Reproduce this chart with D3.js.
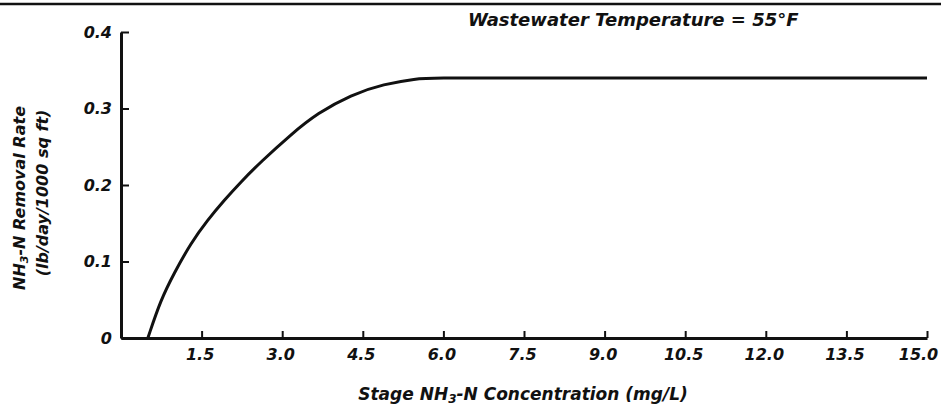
<!DOCTYPE html>
<html lang="en">
<head>
  <meta charset="UTF-8">
  <title>NH3-N Removal Rate</title>
  <script src="https://d3js.org/d3.v7.min.js"></script>
  <style>
    body {
      margin: 0;
      background: #ffffff;
    }
    svg text {
      font-family: "DejaVu Sans", "Liberation Sans", Arial, sans-serif;
      font-style: italic;
      font-weight: bold;
      fill: #111;
    }
  </style>
</head>
<body>
  <div id="chart"></div>
  <script>
    // values
    const concentration = [0.50, 0.74, 0.99, 1.30, 1.61, 1.92, 2.23, 2.60, 3.16, 3.66, 4.28, 4.89, 5.51, 5.76, 7.5, 10.5, 15.0];
    const removalRate   = [0, 0.050, 0.085, 0.124, 0.154, 0.180, 0.204, 0.230, 0.266, 0.294, 0.318, 0.332, 0.339, 0.340, 0.340, 0.340, 0.340];
    const xTicks = [1.5, 3.0, 4.5, 6.0, 7.5, 9.0, 10.5, 12.0, 13.5, 15.0];
    const yTicks = [0, 0.1, 0.2, 0.3, 0.4];

    const width = 941, height = 407;
    const margin = { left: 121, right: 14, top: 32, bottom: 69 };

    const svg = d3.select("#chart").append("svg")
      .attr("width", width)
      .attr("height", height);

    const x = d3.scaleLinear().domain([0, 15]).range([margin.left, width - margin.right]);
    const y = d3.scaleLinear().domain([0, 0.4]).range([height - margin.bottom, margin.top]);

    // rule across the top of the page
    svg.append("line")
      .attr("x1", 0).attr("x2", width)
      .attr("y1", 4).attr("y2", 4)
      .attr("stroke", "#111").attr("stroke-width", 2.5);

    const yAxis = svg.append("g")
      .attr("transform", `translate(${margin.left},0)`)
      .call(d3.axisLeft(y).tickValues(yTicks).tickSize(-8).tickSizeOuter(0).tickPadding(9)
        .tickFormat(d => d === 0 ? "0" : d3.format(".1f")(d)));

    const xAxis = svg.append("g")
      .attr("transform", `translate(0,${y(0)})`)
      .call(d3.axisBottom(x).tickValues(xTicks).tickSize(-7).tickSizeOuter(0).tickPadding(11)
        .tickFormat(d3.format(".1f")));

    [xAxis, yAxis].forEach(g => {
      g.select(".domain").attr("stroke", "#111").attr("stroke-width", 3);
      g.selectAll(".tick line").attr("stroke", "#111").attr("stroke-width", 2);
      g.selectAll(".tick text").attr("font-size", 16).attr("fill", "#111");
    });
    // last label sits a little left so it stays on the page
    xAxis.selectAll(".tick text").attr("dx", d => d === 15 ? -9 : -2);

    const line = d3.line()
      .x((d, i) => x(concentration[i]))
      .y(d => y(d))
      .curve(d3.curveBasis);

    svg.append("path")
      .datum(removalRate)
      .attr("fill", "none")
      .attr("stroke", "#111")
      .attr("stroke-width", 3)
      .attr("d", line);

    // title
    svg.append("text")
      .attr("x", 468).attr("y", 26)
      .attr("font-size", 18)
      .text("Wastewater Temperature = 55°F");

    // x axis label
    const xl = svg.append("text")
      .attr("x", 523).attr("y", 400)
      .attr("text-anchor", "middle")
      .attr("font-size", 17);
    xl.append("tspan").text("Stage NH");
    xl.append("tspan").attr("font-size", 12).attr("dy", 3).text("3");
    xl.append("tspan").attr("dy", -3).text("-N Concentration (mg/L)");

    // y axis label, two lines
    const yl = svg.append("text")
      .attr("transform", "translate(25,198) rotate(-90)")
      .attr("text-anchor", "middle")
      .attr("font-size", 16);
    yl.append("tspan").text("NH");
    yl.append("tspan").attr("font-size", 11).attr("dy", 3).text("3");
    yl.append("tspan").attr("dy", -3).text("-N Removal Rate");

    svg.append("text")
      .attr("transform", "translate(48,193) rotate(-90)")
      .attr("text-anchor", "middle")
      .attr("font-size", 16)
      .text("(lb/day/1000 sq ft)");
  </script>
</body>
</html>
